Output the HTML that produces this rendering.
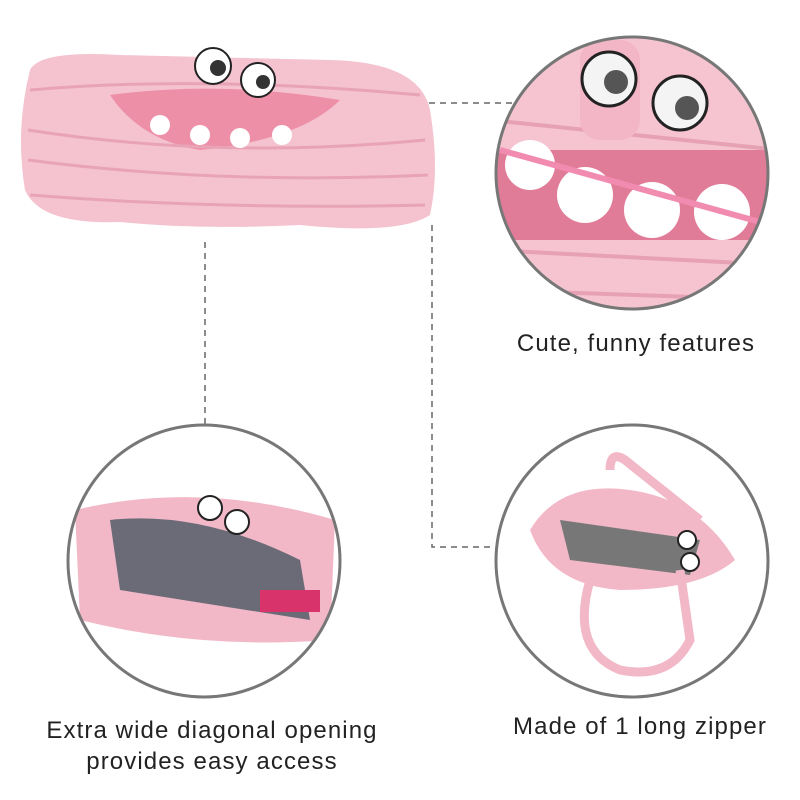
<!DOCTYPE html>
<html><head><style>
body{margin:0;background:#fff;}
svg{display:block}
text{font-family:"Liberation Sans",sans-serif;fill:#222;letter-spacing:1.1px;}
</style></head><body>
<svg width="800" height="800" viewBox="0 0 800 800">
<defs>
<clipPath id="c1"><circle cx="632" cy="173" r="136"/></clipPath>
<clipPath id="c2"><circle cx="204" cy="561" r="136"/></clipPath>
<clipPath id="c3"><circle cx="632" cy="561" r="136"/></clipPath>
</defs>
<g stroke="#666" stroke-width="1.5" stroke-dasharray="6,5" fill="none">
<path d="M352 103 H515"/>
<path d="M205 242 V425"/>
<path d="M432 225 V547 H495"/>
</g>
<g>
<path d="M30 70 Q40 50 120 55 L330 60 Q420 62 430 110 Q440 170 430 215 Q400 235 300 225 Q200 230 120 222 Q40 225 25 190 Q15 130 30 70Z" fill="#f4c3cf"/>
<path d="M110 95 Q220 80 340 100 Q300 140 200 150 Q140 140 110 95Z" fill="#ee8fa8"/>
<g stroke="#e8a4b6" stroke-width="3" fill="none">
<path d="M30 90 Q200 75 420 95"/><path d="M28 130 Q220 160 425 140"/>
<path d="M28 160 Q220 185 428 175"/><path d="M30 195 Q220 210 425 205"/>
</g>
<g fill="#fff"><circle cx="160" cy="125" r="10"/><circle cx="200" cy="135" r="10"/><circle cx="240" cy="138" r="10"/><circle cx="282" cy="135" r="10"/></g>
<circle cx="213" cy="66" r="18" fill="#fff" stroke="#222" stroke-width="2"/><circle cx="218" cy="68" r="8" fill="#333"/>
<circle cx="258" cy="80" r="17" fill="#fff" stroke="#222" stroke-width="2"/><circle cx="263" cy="82" r="7" fill="#333"/>
</g>
<g clip-path="url(#c1)">
<rect x="490" y="30" width="290" height="290" fill="#f5c4d0"/>
<rect x="490" y="150" width="290" height="90" fill="#e07c98"/>
<g stroke="#e7a1b4" stroke-width="4"><path d="M490 120 L780 150"/><path d="M490 250 L780 265"/><path d="M490 290 L780 300"/></g>
<g fill="#fff"><circle cx="530" cy="165" r="25"/><circle cx="585" cy="195" r="28"/><circle cx="652" cy="210" r="28"/><circle cx="722" cy="212" r="28"/></g>
<path d="M500 150 L760 222" stroke="#f28bb0" stroke-width="6"/>
<rect x="580" y="40" width="60" height="100" rx="20" fill="#f3b6c6"/>
<circle cx="609" cy="79" r="27" fill="#f4f4f4" stroke="#222" stroke-width="3"/><circle cx="616" cy="82" r="12" fill="#555"/>
<circle cx="680" cy="103" r="27" fill="#f4f4f4" stroke="#222" stroke-width="3"/><circle cx="687" cy="108" r="12" fill="#555"/>
</g>
<circle cx="632" cy="173" r="136" fill="none" stroke="#777" stroke-width="3"/>
<g clip-path="url(#c2)">
<rect x="60" y="420" width="290" height="290" fill="#fff"/>
<path d="M75 510 Q200 480 335 520 L330 640 Q200 650 80 620Z" fill="#f2b8c8"/>
<path d="M110 520 Q200 510 300 560 L310 620 L120 590Z" fill="#6b6b78"/>
<rect x="260" y="590" width="60" height="22" fill="#d8336a"/>
<circle cx="210" cy="508" r="12" fill="#fff" stroke="#222" stroke-width="2"/>
<circle cx="237" cy="522" r="12" fill="#fff" stroke="#222" stroke-width="2"/>
</g>
<circle cx="204" cy="561" r="136" fill="none" stroke="#777" stroke-width="3"/>
<g clip-path="url(#c3)">
<rect x="490" y="420" width="290" height="290" fill="#fff"/>
<path d="M530 530 Q560 480 630 490 Q700 500 735 560 Q700 590 620 590 Q550 585 530 530Z" fill="#f2b8c8"/>
<path d="M560 520 L700 540 L690 575 L570 560Z" fill="#777"/>
<path d="M610 470 Q610 450 625 460 L700 520" stroke="#f2b8c8" stroke-width="9" fill="none"/>
<path d="M590 580 Q570 650 620 670 Q670 680 690 640 L680 570" stroke="#f2b8c8" stroke-width="9" fill="none"/>
<circle cx="687" cy="540" r="9" fill="#fff" stroke="#222" stroke-width="2"/>
<circle cx="690" cy="562" r="9" fill="#fff" stroke="#222" stroke-width="2"/>
</g>
<circle cx="632" cy="561" r="136" fill="none" stroke="#777" stroke-width="3"/>
<text x="636" y="351" font-size="24" text-anchor="middle">Cute, funny features</text>
<text x="212" y="738" font-size="24" text-anchor="middle">Extra wide diagonal opening</text>
<text x="212" y="769" font-size="24" text-anchor="middle">provides easy access</text>
<text x="640" y="734" font-size="24" text-anchor="middle">Made of 1 long zipper</text>
</svg>
</body></html>
